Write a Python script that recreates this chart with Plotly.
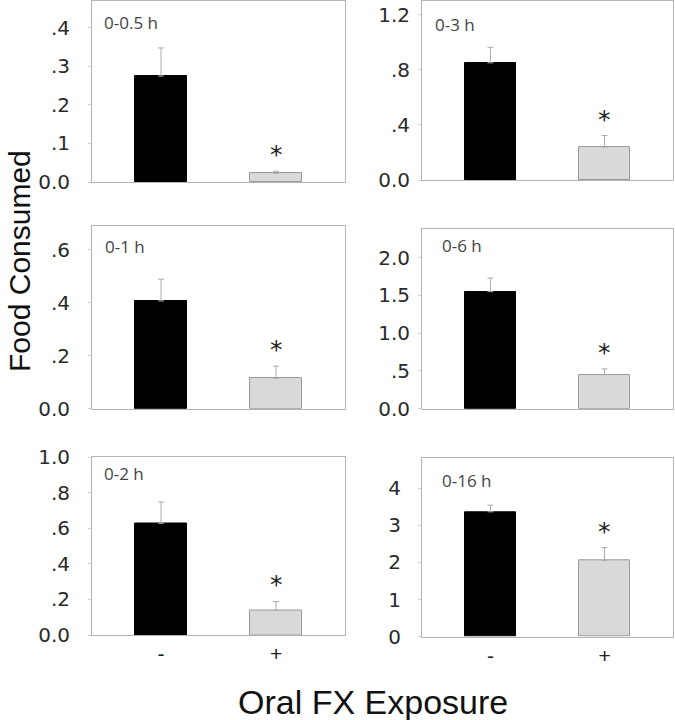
import plotly.graph_objects as go

# ---------------- data ----------------
panel_labels = ["0-0.5 h", "0-3 h", "0-1 h", "0-6 h", "0-2 h", "0-16 h"]
groups = ["-", "+"]
mean_minus = [0.275, 0.851, 0.407, 1.55, 0.629, 3.36]
mean_plus = [0.0225, 0.239, 0.1145, 0.451, 0.138, 2.05]
sem_minus = [0.073, 0.113, 0.082, 0.18, 0.12, 0.18]
sem_plus = [0.0055, 0.084, 0.0465, 0.076, 0.051, 0.35]
y_max = [0.47, 1.30, 0.69, 2.38, 1.005, 4.80]
tick_vals = [
    [0, 0.1, 0.2, 0.3, 0.4],
    [0, 0.4, 0.8, 1.2],
    [0, 0.2, 0.4, 0.6],
    [0, 0.5, 1.0, 1.5, 2.0],
    [0, 0.2, 0.4, 0.6, 0.8, 1.0],
    [0, 1, 2, 3, 4],
]
tick_text = [
    ["0.0", ".1", ".2", ".3", ".4"],
    ["0.0", ".4", ".8", "1.2"],
    ["0.0", ".2", ".4", ".6"],
    ["0.0", ".5", "1.0", "1.5", "2.0"],
    ["0.0", ".2", ".4", ".6", ".8", "1.0"],
    ["0", "1", "2", "3", "4"],
]
y_title = "Food Consumed"
x_title = "Oral FX Exposure"

# ---------------- layout (pixels) ----------------
W, H = 675, 720
boxes = [  # x0, x1, ytop, ybottom
    (92, 345, 1, 182),
    (422, 673, 1, 180),
    (92, 345, 226, 408.7),
    (422, 673, 229, 408.7),
    (92, 345, 456.5, 635),
    (422, 673, 458.3, 636.7),
]
label_offsets = [(10, 21), (11, 24), (11, 20), (18, 16), (10, 17), (18, 22.5)]
tick_standoff = [14, 4, 14, 4, 14, 13]

fig = go.Figure()
annotations = []
xs = [0, 1]
for i in range(6):
    ax = "" if i == 0 else str(i + 1)
    fig.add_trace(go.Bar(
        x=xs, y=[mean_minus[i], mean_plus[i]],
        width=0.45,
        marker=dict(color=["#000000", "#d9d9d9"],
                    line=dict(color=["#000000", "#9a9a9a"], width=1)),
        error_y=dict(type="data", symmetric=False,
                     array=[sem_minus[i], sem_plus[i]], arrayminus=[0, 0],
                     color="#ababab", thickness=1, width=3),
        xaxis="x" + ax, yaxis="y" + ax, showlegend=False, hoverinfo="skip",
    ))
    x0, x1, yt, yb = boxes[i]
    bottom_row = i >= 4
    fig.update_layout(**{
        "xaxis" + ax: dict(
            domain=[x0 / W, x1 / W], anchor="y" + ax, automargin=False,
            range=[-0.6, 1.6], tickvals=xs, ticktext=groups,
            showticklabels=bottom_row, ticks="",
            showline=True, mirror=True, linecolor="#b4b4b4", linewidth=1,
            showgrid=False, zeroline=False, fixedrange=True,
            tickfont=dict(family="Liberation Sans, Arial", size=21, color="#222"),
            ticklabelstandoff=0,
        ),
        "yaxis" + ax: dict(
            domain=[1 - yb / H, 1 - yt / H], anchor="x" + ax, automargin=False,
            range=[0, y_max[i]], tickvals=tick_vals[i], ticktext=tick_text[i],
            ticks="outside", ticklen=3, tickcolor="#d0d0d0",
            showline=True, mirror=True, linecolor="#b4b4b4", linewidth=1,
            showgrid=False, zeroline=False,
            tickfont=dict(family="DejaVu Sans", size=20, color="#2a2a2a"),
            ticklabelstandoff=tick_standoff[i],
        ),
    })
    dx, dy = label_offsets[i]
    annotations.append(dict(
        text=panel_labels[i], xref="paper", yref="paper",
        x=(x0 + dx) / W, y=1 - (yt + dy) / H, xanchor="left", yanchor="middle",
        showarrow=False, font=dict(family="Open Sans", size=17, color="#444"),
    ))
    annotations.append(dict(
        text="*", xref="x" + ax, yref="y" + ax,
        x=1, y=mean_plus[i] + sem_plus[i], xanchor="center", yanchor="bottom",
        yshift=0, showarrow=False,
        font=dict(family="DejaVu Sans", size=25, color="#222"),
    ))

annotations.append(dict(
    text=y_title, xref="paper", yref="paper", x=19 / W, y=1 - 261 / H,
    xanchor="center", yanchor="middle", textangle=-90, showarrow=False,
    font=dict(family="Liberation Sans, Arial", size=30, color="#111"),
))
annotations.append(dict(
    text=x_title, xref="paper", yref="paper", x=373 / W, y=1 - 702 / H,
    xanchor="center", yanchor="middle", showarrow=False,
    font=dict(family="Liberation Sans, Arial", size=34, color="#111"),
))

fig.update_layout(
    width=W, height=H, margin=dict(l=0, r=0, t=0, b=0),
    paper_bgcolor="white", plot_bgcolor="white",
    annotations=annotations, bargap=0,
)
fig.write_html("out.html", config={"displayModeBar": False},
               post_script="document.body.style.margin='0';document.body.style.overflow='hidden';")
